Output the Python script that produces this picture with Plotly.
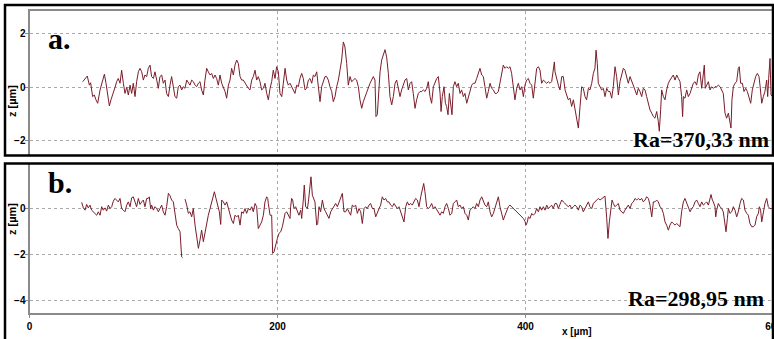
import plotly.graph_objects as go

# ---------------- data (x in µm, z in µm) ----------------
# profile a.
xa = [42.9, 44.8, 46.6, 48.3, 49.3, 50.9, 52.3, 53.6, 55.0, 56.9,
      59.0, 60.4, 61.7, 63.0, 64.4, 65.7, 67.1, 69.0, 70.3, 71.6,
      73.0, 74.3, 75.7, 77.0, 78.4, 79.7, 81.1, 82.4, 83.7, 85.1,
      86.4, 87.8, 89.1, 90.5, 91.8, 93.1, 94.5, 95.8, 97.2, 98.5,
      99.9, 101.2, 102.6, 103.9, 105.2, 106.6, 107.9, 109.3, 110.6, 112.0,
      113.3, 114.6, 116.0, 117.3, 118.7, 120.0, 121.4, 122.7, 124.1, 125.4,
      126.8, 128.1, 129.4, 130.8, 132.1, 133.5, 134.8, 136.2, 137.5, 138.8,
      140.2, 141.5, 142.9, 144.2, 145.6, 146.9, 148.3, 149.6, 150.9, 152.3,
      153.6, 155.0, 156.3, 157.7, 159.0, 160.4, 161.7, 163.0, 164.4, 165.7,
      167.1, 168.4, 169.8, 171.1, 172.4, 173.8, 175.1, 176.5, 177.8, 179.2,
      180.5, 181.9, 183.2, 184.5,
      185.9, 187.2, 188.6, 189.9, 191.3, 192.6, 194.0, 195.3, 196.6, 198.0,
      199.3, 200.7, 202.0, 203.4, 204.7, 206.1, 207.4, 208.7, 210.1, 211.4,
      212.8, 214.1, 215.5, 216.8, 218.1, 219.5, 220.8, 222.2, 223.5, 224.9,
      226.2, 227.6, 228.9, 230.2, 231.6, 232.9, 234.3, 235.6, 237.0, 238.3,
      239.6, 241.0, 242.3, 243.7, 245.0, 246.4, 247.7, 249.1, 250.4, 251.7,
      253.1, 254.4, 255.8, 257.1, 258.5, 259.8, 261.2, 262.5, 263.8, 265.2,
      266.5, 267.9, 269.2, 270.6, 271.9, 273.3, 274.6, 275.9, 277.3, 278.6,
      279.4, 280.5, 281.6,
      282.7, 284.0, 285.3, 286.7, 288.0, 289.4, 290.7, 292.1, 293.4, 294.8,
      296.1, 297.4, 298.8, 300.1, 301.5, 302.8, 304.2, 305.5, 306.9, 308.2,
      309.5, 310.9, 312.2, 313.6, 314.9, 316.3, 317.6, 319.0, 320.3, 321.6,
      323.0, 324.3, 325.7, 327.0, 328.4, 329.7, 331.1,
      331.9, 332.9, 334.3, 335.4, 336.4, 337.5, 338.6, 339.6, 340.7,
      341.8, 343.1, 344.5, 345.8, 347.2, 348.5, 349.9, 351.2, 352.6, 353.9,
      355.2, 356.6, 357.9, 359.3, 360.6, 362.0, 363.3, 364.7, 366.0, 367.3,
      368.7, 370.0, 371.4, 372.7, 374.1, 375.4, 376.7, 378.1, 379.4, 380.8,
      382.1, 383.5, 384.8, 386.2,
      387.5, 388.8, 390.2, 391.5, 392.9, 394.2, 395.6, 396.9, 398.3, 399.6,
      400.9, 402.3, 403.6, 405.0, 406.3, 407.7, 409.0, 410.4, 411.7, 413.0,
      414.4, 415.7, 417.1, 418.4, 419.8, 421.1, 422.4, 423.3, 423.8, 425.1,
      426.5, 427.8, 429.2, 430.5, 431.9, 433.2, 434.5, 435.9, 437.2, 438.6,
      439.9, 441.3, 442.6, 444.0, 445.3, 446.6, 448.0, 449.3, 450.7, 452.0,
      453.4, 454.7, 456.0, 456.9, 457.9, 458.7, 460.1, 461.4, 462.8, 464.1,
      465.5, 466.8, 468.1, 469.5, 470.8, 472.2, 473.5, 474.9, 476.2, 477.6,
      478.9, 480.2, 481.6, 482.9, 484.3, 485.6, 487.0, 488.3, 489.7, 491.0,
      492.3, 493.7, 495.0, 496.4, 497.7, 499.1, 500.4, 501.8, 503.1, 504.4,
      505.8, 507.1, 507.9, 509.0, 509.8, 511.2, 512.5, 513.8, 515.2, 516.5,
      517.9, 519.2, 520.6, 521.9, 523.3, 524.6, 525.9, 526.7, 527.3, 528.6,
      530.0, 531.3, 532.7, 534.0, 535.3, 536.7, 538.0, 539.4, 540.7, 542.1,
      543.4, 544.2, 545.0, 546.1, 547.5, 548.8, 550.1, 551.5, 552.8, 554.2,
      555.5, 556.9, 558.2, 559.5, 560.9, 562.2, 563.6, 564.9, 565.7, 566.5,
      567.6, 568.9, 570.3, 571.6, 572.4, 573.5, 574.9, 576.2, 577.6, 578.9,
      580.2, 581.6, 582.9, 584.3, 585.6, 587.0, 588.3, 589.1, 590.5, 591.8,
      593.1, 594.5, 595.3, 596.1, 597.2, 598.0, 599.3, 600.4]
za = [0.20, 0.29, 0.41, 0.07, 0.16, -0.36, -0.30, -0.48, -0.61, -0.11,
      0.26, 0.48, 0.14, -0.36, -0.71, -0.48, -0.24, -0.01, 0.20, 0.32,
      0.14, 0.63, 0.14, -0.24, -0.01, -0.30, 0.07, -0.24, 0.14, -0.36,
      0.20, 0.57, 0.70, 0.57, 0.26, 0.45, 0.39, 0.70, 0.82, 0.39,
      0.32, 0.57, 0.26, -0.05, 0.39, 0.45, 0.14, 0.26, -0.24, -0.36,
      0.07, 0.39, 0.01, -0.36, -0.42, 0.01, 0.07, -0.11, 0.01, -0.05,
      0.26, 0.14, 0.07, 0.26, 0.20, 0.07, 0.01, 0.14, 0.20, -0.11,
      -0.30, 0.26, 0.70, 0.57, 0.45, 0.51, 0.32, 0.45, 0.32, 0.07,
      0.45, 0.14, 0.01, -0.17, -0.42, 0.07, 0.26, 0.70, 0.45, 0.82,
      1.01, 0.88, 0.39, 0.26, 0.26, 0.14, 0.07, -0.05, -0.11, 0.26,
      0.39, 0.63, 0.26, 0.39,
      0.20, -0.11, -0.05, 0.14, -0.24, -0.48, -0.05, 0.20, 0.63, 0.32,
      0.76, 0.57, -0.24, -0.36, 0.14, 0.70, 0.26, 0.07, 0.14, 0.01,
      -0.11, -0.24, 0.07, 0.01, 0.32, 0.51, 0.32, -0.11, -0.05, 0.26,
      0.32, 0.14, 0.45, 0.39, 0.57, 0.01, -0.55, 0.01, 0.26, 0.39,
      0.39, 0.26, 0.01, -0.17, -0.55, -0.36, 0.01, 0.26, 0.63, 1.01,
      1.69, 1.50, 0.88, 0.07, 0.39, 0.20, 0.26, 0.32, 0.26, 0.01,
      -0.48, -0.80, -0.55, -0.36, -0.24, -0.05, 0.14, 0.26, 0.39, 0.26,
      -1.11, -1.04, 0.01,
      0.57, 1.01, 1.25, 1.40, 1.13, 0.51, -0.36, -0.67, -0.36, 0.14,
      0.26, -0.11, -0.36, -0.11, 0.07, 0.26, 0.32, -0.11, 0.14, 0.20,
      -0.24, -0.80, -0.48, -0.24, -0.17, -0.17, -0.11, -0.17, -0.05, 0.20,
      -0.36, -0.61, 0.01, 0.20, 0.32, 0.39, -0.24,
      -0.92, -0.36, 0.01, -0.61, -0.73, -1.04, -0.24, -0.67, -1.04,
      0.01, 0.20, 0.01, 0.14, -0.24, -0.11, -0.36, -0.24, -0.61, -0.36,
      -0.17, 0.07, 0.14, 0.14, 0.32, 0.51, 0.70, 0.45, 0.39, 0.01,
      -0.42, -0.17, 0.14, -0.05, -0.11, -0.24, -0.24, -0.17, 0.20, 0.51,
      0.82, 0.70, 0.76, 0.70,
      0.76, 0.51, -0.11, -0.48, -0.05, 0.14, -0.11, 0.01, -0.36, 0.07,
      0.26, 0.32, 0.14, 0.07, -0.42, 0.26, 0.70, 0.76, 0.63, 0.14,
      0.26, 0.20, 0.14, 0.20, 0.14, 0.20, 0.76, 0.94, 0.57, 0.26,
      0.07, -0.11, 0.39, 0.39, -0.11, -0.30, -0.48, -0.42, -0.73, -0.48,
      -0.86, -1.17, -1.54, -0.73, 0.01, -0.05, -0.36, -0.48, -0.05, -0.11,
      0.14, 0.51, 0.70, 1.38, 0.88, 0.14, 0.01, -0.11, -0.05, -0.36,
      -0.05, -0.17, -0.17, -0.42, 0.01, 0.76, 0.39, -0.30, 0.20, 0.51,
      0.70, 0.63, 0.32, 0.14, 0.39, 0.20, 0.01, -0.11, -0.30, -0.05,
      -0.17, -0.36, -0.05, -0.11, -0.36, -0.61, -0.86, -0.98, -1.11, -1.17,
      -0.92, -1.29, -1.66, -0.86, -0.11, -0.36, -0.48, -0.11, 0.14, 0.26,
      0.39, 0.45, 0.26, 0.45, 0.32, 0.20, -0.36, -1.11, -0.36, -0.42,
      -0.11, -0.36, -0.24, -0.05, 0.14, 0.20, 0.07, 0.45, 0.57, -0.05,
      0.63, 0.82, -0.05, 0.07, 0.20, -0.11, 0.01, -0.05, 0.01, 0.01,
      0.07, 0.01, -0.11, -0.24, -0.98, -1.17, -0.98, -1.29, -1.54, -0.48,
      0.01, 0.14, 0.20, 0.70, 0.76, 0.14, 0.14, -0.17, -0.05, -0.17,
      -0.36, -0.61, -0.11, 0.20, 0.39, 0.51, 0.39, 0.07, -0.61, -0.36,
      -0.17, 0.26, -0.36, 0.32, 1.07, -0.30, -0.36, -0.11]

# profile b. (None = gap in the measured profile)
xb = [42.1, 43.4, 44.8, 46.1, 47.4, 48.8, 50.1, 51.5, 52.8, 54.2,
      55.5, 56.9, 58.2, 59.5, 60.9, 62.2, 63.6, 64.9, 66.3, 67.6,
      68.9, 70.3, 71.6, 73.0, 74.3, 75.7, 77.0, 78.4, 79.7, 81.1,
      82.4, 83.7, 85.1, 86.4, 87.8, 89.1, 90.5, 91.8, 93.1, 94.5,
      95.8, 96.6, 97.7, 98.5, 99.9, 101.2, 102.6, 103.9, 105.2, 106.6,
      107.9, 109.3, 110.6, 112.0, 113.3, 114.6, 116.0, 117.3, 118.7, 120.0,
      121.4, 122.7, 123.5, 124.4, 125.4, 126.8, 128.1, 129.4, 130.8, 132.1,
      133.5, 134.8, 136.2, 137.5, 138.8, 140.2, 141.5, 142.9, 144.2, 145.6,
      146.9, 148.3, 149.1, 150.4, 151.8, 153.1, 154.2, 155.0, 156.3, 157.7,
      159.0, 160.4, 161.7, 163.0, 164.4, 165.7, 167.1, 168.4, 169.8, 171.1,
      172.4, 173.8, 175.1, 176.5, 177.8, 179.2, 180.5, 181.9, 183.2, 184.5,
      185.9, 187.2, 188.6, 189.9, 191.3, 192.1, 192.6, 194.0, 195.3, 196.1,
      197.2, 198.5, 199.9, 201.2, 202.6, 203.9, 204.7, 206.1, 207.4, 208.7,
      210.1, 210.6, 211.4, 212.2, 213.3, 214.6, 216.0, 217.3, 218.7, 219.5,
      220.8, 221.6, 222.7, 224.1, 224.9, 226.2, 227.0, 228.1, 228.9, 230.2,
      231.6, 232.4, 233.5, 234.8, 236.2, 237.5, 238.8, 240.2, 241.5, 242.9,
      244.2, 245.6, 246.9, 248.3, 249.6, 250.9, 252.3, 253.6, 255.0, 256.3,
      257.7, 259.0, 260.3, 261.7, 263.0, 264.4, 265.7, 267.1, 268.4, 269.8,
      271.1, 272.4, 273.8, 275.1, 276.5, 277.8, 279.2, 280.5, 281.9, 283.2,
      284.5, 285.9, 287.2, 288.6, 289.9, 291.3, 292.6, 294.0, 295.3, 296.6,
      298.0, 299.3, 300.7, 302.0, 303.4, 304.7, 306.0, 307.4, 308.7, 310.1,
      311.4, 312.8, 314.1, 315.5, 316.8, 317.9, 318.9, 320.3, 321.6, 323.0,
      324.3, 325.7, 327.0, 328.4, 329.7, 331.1, 332.4, 333.7, 335.1, 336.4,
      337.8, 339.1, 340.5, 341.8, 343.1, 344.5, 345.8, 347.2, 348.5, 349.9,
      351.2, 352.6, 353.9, 355.2, 356.6, 357.9, 359.3, 360.6, 362.0, 363.3,
      364.7, 366.0, 367.3, 368.7, 370.0, 371.4, 372.7, 374.1, 375.4, 376.7,
      378.1, 379.4, 380.8, 382.1, 383.5, 384.8, 386.2,
      387.5, 388.8, 390.2, 391.5, 392.9, 394.2, 395.6, 396.9, 398.3, 399.6,
      400.4, 401.5, 402.3, 403.6, 405.0, 406.3, 407.7, 409.0, 410.4, 411.7,
      413.0, 414.4, 415.7, 417.1, 418.4, 419.8, 421.1, 422.4, 423.8, 425.1,
      426.5, 427.8, 429.2, 430.5, 431.9, 433.2, 434.5, 435.9, 437.2, 438.6,
      439.9, 441.3, 442.6, 444.0, 445.3, 446.6, 448.0, 449.3, 450.7, 452.0,
      453.4, 454.7, 456.0, 457.4, 458.7, 460.1, 461.4, 462.8, 464.1, 465.5,
      466.5, 467.6, 468.7, 469.8, 470.8, 472.2, 473.5, 474.9, 476.2, 477.6,
      478.9, 480.2, 481.6, 482.9, 484.3, 485.6, 487.0, 488.3, 489.7, 491.0,
      492.3, 493.7, 495.0, 496.4, 497.7, 499.1, 500.4, 501.8, 503.1, 504.4,
      505.8, 507.1, 508.5, 509.8, 511.2, 512.5, 513.8, 515.2, 516.5, 517.9,
      519.2, 520.6, 521.9, 523.3, 524.6, 525.9, 527.3, 528.6, 530.0, 531.3,
      532.7, 534.0, 535.3, 536.7, 538.0, 539.4, 540.7, 542.1, 543.4, 544.8,
      546.1, 547.5, 548.8, 549.6, 550.7, 551.5, 552.8, 553.4, 554.2, 555.5,
      556.9, 558.2, 559.5, 560.9, 561.7, 562.8, 563.6, 564.9, 566.3, 567.6,
      568.9, 570.3, 571.6, 573.0, 574.3, 575.7, 577.0, 578.4, 579.7, 581.0,
      582.4, 583.7, 585.1, 586.4, 587.8, 588.6, 589.6, 590.5, 591.8, 593.1,
      594.5, 595.8, 597.2, 598.5, 600.4]
zb = [0.28, 0.04, -0.06, 0.19, 0.04, 0.16, -0.06, -0.13, -0.20, -0.28,
      -0.13, -0.28, 0.09, -0.06, 0.04, -0.10, 0.16, 0.01, 0.09, 0.33,
      0.45, 0.38, 0.30, 0.45, 0.01, -0.06, -0.13, 0.16, 0.30, 0.09,
      0.48, 0.52, 0.30, 0.09, 0.45, 0.19, 0.30, 0.38, 0.09, 0.45,
      0.45, 0.52, 0.01, 0.16, -0.06, 0.09, 0.01, -0.13, 0.01, 0.16,
      -0.13, -0.28, 0.09, 0.67, 0.57, 0.38, 0.30, -0.13, -0.71, -0.86,
      -1.00, -2.09, -2.13, None, 0.42, 0.16, -0.20, -0.13, -0.35, 0.01,
      -0.71, -1.14, -1.72, -1.36, -0.93, -1.43, -1.00, -0.64, -0.28, 0.01,
      0.30, 0.52, 0.74, 0.45, 0.16, -0.13, -0.68, 0.38, 0.30, 0.16,
      0.30, 0.01, -0.20, -0.49, -0.64, -0.28, -0.35, -0.28, -0.71, -0.13,
      -0.20, 0.01, -0.20, 0.01, -0.06, 0.09, -0.13, 0.23, 0.09, -0.86,
      -0.71, -0.57, -0.28, 0.30, 0.52, 0.45, 0.23, -0.28, -0.28, -1.94,
      -1.87, -1.51, -1.29, -1.07, -1.00, -0.78, -0.49, -0.20, -0.13, -0.28,
      -0.42, 0.09, 0.45, 0.38, 0.01, 0.09, -0.13, -0.28, -0.06, -0.42,
      0.38, 1.03, 0.09, 0.01, 0.30, 0.88, 1.39, 0.59, 0.45, 0.30,
      -0.71, -0.64, 0.09, -0.13, 0.38, 0.01, -0.13, -0.28, -0.42, -0.13,
      0.01, 0.09, 0.23, 0.09, 0.30, 0.45, 0.67, -0.13, -0.13, 0.01,
      -0.13, -0.28, 0.16, 0.09, 0.16, -0.20, 0.01, -0.13, -0.64, 0.01,
      0.09, 0.01, 0.16, 0.23, 0.01, 0.01, -0.35, -0.13, 0.01, 0.16,
      0.52, 0.38, 0.45, 0.30, 0.30, 0.16, 0.09, 0.23, 0.09, 0.01,
      0.09, -0.13, -0.35, -0.57, 0.09, 0.30, 0.16, 0.23, 0.16, 0.30,
      0.45, 0.38, 0.09, 0.52, 0.81, 1.10, 0.74, 0.09, 0.01, 0.09,
      0.23, 0.01, 0.09, -0.06, -0.20, -0.28, -0.13, -0.20, 0.09, 0.23,
      0.01, -0.28, -0.20, 0.23, 0.30, 0.38, 0.09, 0.16, 0.01, 0.09,
      -0.20, -0.28, -0.49, -0.06, 0.01, 0.09, 0.01, 0.23, 0.09, 0.38,
      0.52, 0.30, 0.16, 0.09, 0.30, -0.13, -0.35, -0.20, 0.01, 0.23,
      0.52, 0.09, -0.28, -0.49, -0.28, -0.06, 0.09,
      0.16, 0.09, 0.01, -0.06, -0.13, -0.20, -0.28, -0.35, -0.42, -0.54,
      -0.71, -0.57, -0.35, -0.42, -0.20, -0.28, -0.20, 0.01, -0.13, 0.09,
      -0.06, 0.09, -0.06, 0.16, 0.01, 0.09, 0.16, 0.01, 0.23, 0.23,
      0.01, 0.19, 0.38, 0.30, 0.23, 0.16, 0.09, 0.16, 0.01, 0.09,
      0.16, 0.09, -0.06, 0.16, 0.09, -0.13, 0.01, 0.16, 0.30, 0.09,
      0.01, 0.23, 0.30, 0.38, 0.45, 0.38, 0.45, 0.52, 0.55, -0.42,
      -1.29, -0.57, 0.01, 0.38, 0.23, 0.09, 0.16, 0.23, -0.06, -0.13,
      -0.20, -0.06, 0.09, 0.16, 0.01, 0.23, 0.30, 0.45, 0.38, 0.45,
      0.38, 0.45, 0.30, 0.38, 0.52, 0.45, 0.16, -0.35, 0.30, 0.30,
      0.38, 0.30, 0.09, 0.01, -0.20, -0.57, -0.71, -0.93, -0.71, -0.57,
      -0.64, -0.71, -0.64, -0.71, -0.78, -0.13, 0.30, 0.45, 0.23, 0.09,
      -0.13, 0.01, 0.09, 0.30, 0.38, 0.23, 0.09, 0.30, 0.16, 0.23,
      0.30, 0.16, 0.45, 0.62, 0.38, 0.30, 0.09, -0.35, -0.06, 0.23,
      0.09, 0.01, -0.13, -0.64, -1.00, -0.42, 0.01, -0.20, -0.13, 0.09,
      -0.06, -0.35, -0.13, 0.23, 0.45, 0.38, -0.06, -0.20, -0.28, -0.64,
      -0.78, -0.78, -0.71, -0.35, -0.20, 0.09, -0.06, -0.57, -0.13, 0.23,
      0.45, 0.09, 0.01, 0.01, -0.06]

assert len(xa) == len(za), (len(xa), len(za))
assert len(xb) == len(zb), (len(xb), len(zb))

x_ticks = [0, 200, 400, 600]
x_ticktext = ["0", "200", "400", "600"]
ya_ticks = [-2, 0, 2]
yb_ticks = [-4, -2, 0]
labels = ["a.", "b."]
ra_texts = ["Ra=370,33 nm", "Ra=298,95 nm"]

# ---------------- figure ----------------
W, H = 774, 339
LINE = "#7a1d2a"
AXC = "#8a8a8a"
GRID = "#a9a9a9"
TICKFONT = dict(family="Liberation Sans, Arial, sans-serif", size=10, color="black", weight="bold")

def px(v):
    return v / W

def py(v):
    return 1 - v / H

xdom = [px(29.5), 1.0]
xrange_ = [0, 600.4]

fig = go.Figure()
fig.add_trace(go.Scatter(x=xa, y=za, mode="lines", line=dict(color=LINE, width=1),
                         xaxis="x2", yaxis="y2", showlegend=False, connectgaps=False))
fig.add_trace(go.Scatter(x=xb, y=zb, mode="lines", line=dict(color=LINE, width=1),
                         xaxis="x", yaxis="y", showlegend=False, connectgaps=False))

common_x = dict(domain=xdom, range=xrange_, tickmode="array", tickvals=x_ticks,
                showgrid=True, gridcolor=GRID, griddash="3px,3px", gridwidth=1,
                zeroline=False, showline=True, linecolor=AXC, linewidth=2,
                automargin=False, fixedrange=True)

common_y = dict(tickmode="array", ticks="outside", ticklen=3, tickcolor=AXC,
                tickfont=TICKFONT, showgrid=True, gridcolor=GRID, griddash="3px,3px",
                zeroline=False, showline=True, linecolor=AXC, linewidth=2,
                automargin=False, fixedrange=True, ticklabelstandoff=-3)

fig.update_layout(
    width=W, height=H, autosize=False,
    margin=dict(l=0, r=0, t=0, b=0, pad=0),
    paper_bgcolor="white", plot_bgcolor="white",
    xaxis=dict(**common_x, anchor="y", ticktext=x_ticktext, ticks="outside",
               ticklen=3, tickcolor=AXC, tickwidth=1, tickfont=TICKFONT,
               ticklabeloverflow="allow"),
    xaxis2=dict(**common_x, anchor="y2", side="top", showticklabels=False, ticks=""),
    yaxis=dict(**common_y, domain=[py(313), py(163)], range=[-4.53, 1.99], anchor="x",
               tickvals=yb_ticks),
    yaxis2=dict(**common_y, domain=[py(155), py(11)], range=[-2.55, 2.85], anchor="x2",
                tickvals=ya_ticks),
)

# black panel frames
fig.add_shape(type="rect", xref="paper", yref="paper",
              x0=px(5), x1=px(773), y0=py(155.5), y1=py(5),
              line=dict(color="black", width=2.5), fillcolor="rgba(0,0,0,0)")
fig.add_shape(type="rect", xref="paper", yref="paper",
              x0=px(5), x1=px(773), y0=py(350), y1=py(163.5),
              line=dict(color="black", width=2.5), fillcolor="rgba(0,0,0,0)")

SERIF = "Liberation Serif, Times New Roman, serif"
SANS = "Liberation Sans, Arial, sans-serif"

# panel letters
fig.add_annotation(text="<b>%s</b>" % labels[0], xref="paper", yref="paper",
                   x=px(59), y=py(39), xanchor="center", yanchor="middle",
                   showarrow=False, font=dict(family=SERIF, size=30, color="black"))
fig.add_annotation(text="<b>%s</b>" % labels[1], xref="paper", yref="paper",
                   x=px(60), y=py(182), xanchor="center", yanchor="middle",
                   showarrow=False, font=dict(family=SERIF, size=30, color="black"))
# Ra values
fig.add_annotation(text="<b>%s</b>" % ra_texts[0], xref="paper", yref="paper",
                   x=px(771), y=py(139), xanchor="right", yanchor="middle",
                   showarrow=False, font=dict(family=SERIF, size=22, color="black"))
fig.add_annotation(text="<b>%s</b>" % ra_texts[1], xref="paper", yref="paper",
                   x=px(766), y=py(298), xanchor="right", yanchor="middle",
                   showarrow=False, font=dict(family=SERIF, size=22, color="black"))
# axis titles
for yc in (101, 219):
    fig.add_annotation(text="<b>z [µm]</b>", xref="paper", yref="paper",
                       x=px(12), y=py(yc), xanchor="center", yanchor="middle",
                       textangle=-90, showarrow=False,
                       font=dict(family=SANS, size=11, color="black"))
fig.add_annotation(text="<b>x [µm]</b>", xref="paper", yref="paper",
                   x=px(577), y=py(331), xanchor="center", yanchor="middle",
                   showarrow=False, font=dict(family=SANS, size=10, color="black"))

fig.write_html(
    "out.html",
    config={"displayModeBar": False},
    post_script="document.body.style.margin='0';document.body.style.overflow='hidden';",
)
